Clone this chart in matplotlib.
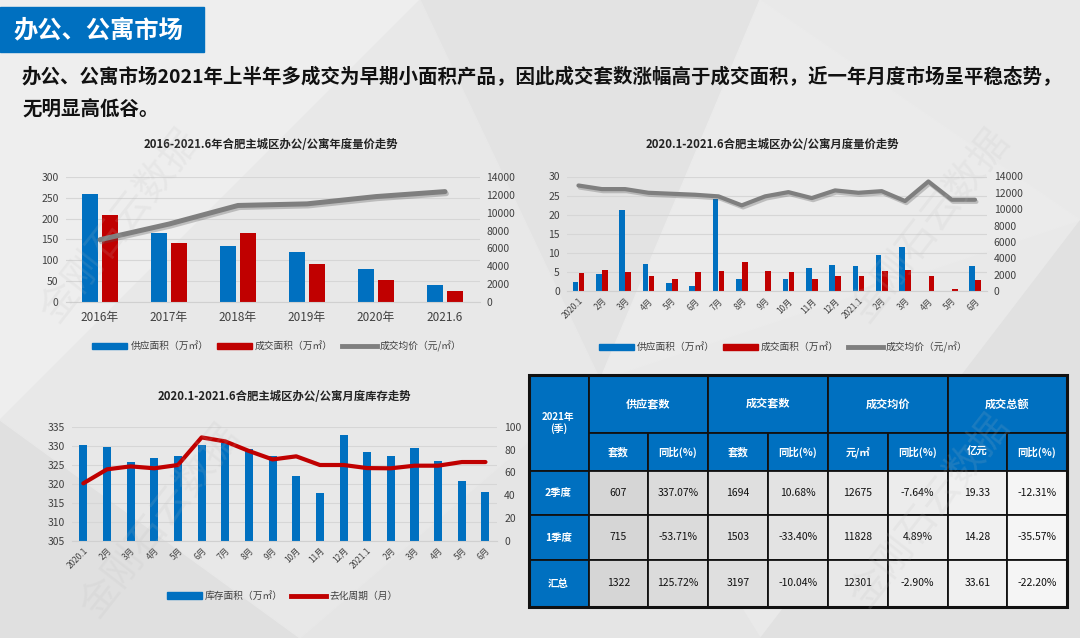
import matplotlib.pyplot as plt
import matplotlib.patheffects as pe
from matplotlib.patches import Rectangle, Polygon, Patch
from matplotlib.lines import Line2D
import numpy as np

plt.rcParams['font.family'] = ['Noto Sans CJK SC', 'DejaVu Sans']

BLUE = '#0070C0'
RED = '#C00000'
GRAY = '#7f7f7f'
TXT = '#404040'

# ---- data ----
years = ['2016年', '2017年', '2018年', '2019年', '2020年', '2021.6']
year_supply = [259, 165, 135, 120, 78, 40]
year_deal = [208, 142, 166, 92, 53, 27]
year_price = [6980, 8740, 10830, 11010, 11830, 12390]

months = ['2020.1', '2月', '3月', '4月', '5月', '6月', '7月', '8月', '9月',
          '10月', '11月', '12月', '2021.1', '2月', '3月', '4月', '5月', '6月']
month_supply = [2.4, 4.5, 21.3, 7.0, 2.0, 1.4, 24.1, 3.1, 0, 3.1, 5.9, 6.8,
                6.6, 9.5, 11.5, 0, 0, 6.6]
month_deal = [4.6, 5.5, 4.9, 3.9, 3.1, 4.9, 5.2, 7.5, 5.2, 4.9, 3.1, 4.0,
              3.8, 5.2, 5.4, 4.0, 0.5, 2.9]
month_price = [12900, 12460, 12460, 12010, 11890, 11770, 11570, 10470, 11570,
               12090, 11360, 12300, 12010, 12210, 11000, 13390, 11160, 11160]

stock = [330.2, 329.7, 325.8, 326.7, 327.4, 330.2, 330.6, 329.1, 327.4, 322.0,
         317.5, 332.9, 328.3, 327.4, 329.4, 326.0, 320.6, 317.8]
cycle = [50.3, 62.6, 65.2, 63.5, 66.4, 90.6, 87.1, 78.7, 71.3, 74.0, 66.4, 66.4,
         63.7, 63.5, 65.8, 65.8, 69.0, 69.0]

tbl_top = ['供应套数', '成交套数', '成交均价', '成交总额']
tbl_sub = ['套数', '同比(%)', '套数', '同比(%)', '元/㎡', '同比(%)', '亿元', '同比(%)']
tbl_rows = ['2季度', '1季度', '汇总']
tbl_vals = [
    ['607', '337.07%', '1694', '10.68%', '12675', '-7.64%', '19.33', '-12.31%'],
    ['715', '-53.71%', '1503', '-33.40%', '11828', '4.89%', '14.28', '-35.57%'],
    ['1322', '125.72%', '3197', '-10.04%', '12301', '-2.90%', '33.61', '-22.20%'],
]

W, H = 1080, 638
fig = plt.figure(figsize=(W / 100, H / 100), dpi=100)


def box(l, t, r, b):
    return [l / W, 1 - b / H, (r - l) / W, (b - t) / H]


# ---- background ----
bg = fig.add_axes([0, 0, 1, 1])
bg.set_xlim(0, W)
bg.set_ylim(H, 0)
bg.axis('off')
bg.add_patch(Rectangle((0, 0), W, H, color='#e9e9e9', zorder=0))
polys = [
    ([(0, 0), (420, 0), (0, 420)], '#eeeeee'),
    ([(420, 0), (760, 0), (600, 380)], '#e3e3e3'),
    ([(0, 420), (300, 638), (0, 638)], '#e0e0e0'),
    ([(600, 380), (760, 0), (1080, 220)], '#ebebeb'),
    ([(1080, 220), (1080, 638), (760, 638)], '#e1e1e1'),
    ([(300, 638), (600, 380), (760, 638)], '#e5e5e5'),
    ([(420, 0), (0, 420), (300, 638), (600, 380)], '#e8e8e8'),
]
for pts, c in polys:
    bg.add_patch(Polygon(pts, closed=True, color=c, zorder=0))

# title bar and intro text
bg.add_patch(Rectangle((0, 7), 204, 45, color=BLUE, zorder=1))
bg.text(13, 30, '办公、公寓市场', color='white', fontsize=17.5, fontweight='bold',
        va='center', ha='left', zorder=2)
bg.text(22, 77, '办公、公寓市场2021年上半年多成交为早期小面积产品，因此成交套数涨幅高于成交面积，近一年月度市场呈平稳态势，',
        color='#111111', fontsize=14, fontweight='bold', va='center', ha='left', zorder=2)
bg.text(22, 110, '无明显高低谷。', color='#111111', fontsize=14, fontweight='bold',
        va='center', ha='left', zorder=2)


def style(ax, axr, ylim, yticks, rlim, rticks):
    for a in (ax, axr):
        a.set_facecolor('none')
        for s in a.spines.values():
            s.set_visible(False)
        a.tick_params(length=0, labelsize=7.5, colors=TXT, pad=5)
    ax.spines['bottom'].set_visible(True)
    ax.spines['bottom'].set_color('#d0d0d0')
    ax.set_ylim(*ylim)
    ax.set_yticks(yticks)
    axr.set_ylim(*rlim)
    axr.set_yticks(rticks)
    ax.yaxis.grid(True, color='#d6d6d6', lw=0.8)
    ax.set_axisbelow(True)


shadow = [pe.SimpleLineShadow(offset=(1, -1.5), shadow_color='#555555', alpha=0.3), pe.Normal()]

# ---- chart 1: yearly ----
ax1 = fig.add_axes(box(65.5, 177.3, 479.5, 301.7))
ax1r = ax1.twinx()
x1 = np.arange(len(years))
ax1.bar(x1 - 0.145, year_supply, 0.22, color=BLUE, zorder=2)
ax1.bar(x1 + 0.145, year_deal, 0.22, color=RED, zorder=2)
ax1r.plot(x1, year_price, color=GRAY, lw=3.6, solid_capstyle='round', path_effects=shadow)
style(ax1, ax1r, (0, 300), range(0, 301, 50), (0, 14000), range(0, 14001, 2000))
ax1.set_xlim(-0.5, len(years) - 0.5)
ax1.set_xticks(x1)
ax1.set_xticklabels(years, fontsize=8.5)
ax1.tick_params(axis='x', pad=7)
fig.text(271 / W, 1 - 145 / H, '2016-2021.6年合肥主城区办公/公寓年度量价走势',
         ha='center', va='center', fontsize=8.2, fontweight='bold', color='#222222')

# ---- chart 2: monthly volume/price ----
ax2 = fig.add_axes(box(566.8, 176.5, 986.7, 291))
ax2r = ax2.twinx()
x2 = np.arange(len(months))
ax2.bar(x2 - 0.13, month_supply, 0.24, color=BLUE, zorder=2)
ax2.bar(x2 + 0.13, month_deal, 0.24, color=RED, zorder=2)
ax2r.plot(x2, month_price, color=GRAY, lw=3, solid_capstyle='round', path_effects=shadow)
style(ax2, ax2r, (0, 30), range(0, 31, 5), (0, 14000), range(0, 14001, 2000))
ax2.set_xlim(-0.5, len(months) - 0.5)
ax2.set_xticks(x2)
ax2.set_xticklabels(months, fontsize=6, rotation=45, ha='right', va='top',
                    rotation_mode='anchor')
ax2.tick_params(axis='x', pad=4)
fig.text(772 / W, 1 - 145 / H, '2020.1-2021.6合肥主城区办公/公寓月度量价走势',
         ha='center', va='center', fontsize=8.2, fontweight='bold', color='#222222')

# ---- chart 3: stock ----
ax3 = fig.add_axes(box(71.5, 426.7, 497.3, 540.7))
ax3r = ax3.twinx()
x3 = np.arange(len(months))
ax3.bar(x3, [v - 305 for v in stock], 0.34, bottom=305, color=BLUE, zorder=2)
ax3r.plot(x3, cycle, color=RED, lw=3, solid_capstyle='round')
style(ax3, ax3r, (305, 335), range(305, 336, 5), (0, 100), range(0, 101, 20))
ax3.set_xlim(-0.5, len(months) - 0.5)
ax3.set_xticks(x3)
ax3.set_xticklabels(months, fontsize=6, rotation=45, ha='right', va='top',
                    rotation_mode='anchor')
ax3.tick_params(axis='x', pad=4)
fig.text(284 / W, 1 - 396 / H, '2020.1-2021.6合肥主城区办公/公寓月度库存走势',
         ha='center', va='center', fontsize=8.2, fontweight='bold', color='#222222')

# ---- legends ----
lg_kw = dict(loc='center', ncol=3, frameon=False, fontsize=7, handlelength=3.6,
             handleheight=0.6, columnspacing=0.9, handletextpad=0.3, labelcolor=TXT)
h_sup = Patch(color=BLUE, label='供应面积（万㎡）')
h_deal = Patch(color=RED, label='成交面积（万㎡）')
h_price = Line2D([], [], color=GRAY, lw=3.5, label='成交均价（元/㎡）')
fig.legend(handles=[h_sup, h_deal, h_price], bbox_to_anchor=(277 / W, 1 - 346 / H), **lg_kw)
fig.legend(handles=[h_sup, h_deal, h_price], bbox_to_anchor=(783 / W, 1 - 347 / H), **lg_kw)
h_stock = Patch(color=BLUE, label='库存面积（万㎡）')
h_cyc = Line2D([], [], color=RED, lw=3.5, label='去化周期（月）')
fig.legend(handles=[h_stock, h_cyc], bbox_to_anchor=(282 / W, 1 - 596 / H),
           **{**lg_kw, 'ncol': 2})

# ---- table ----
cx = [528.5, 588.5, 648, 708, 768, 828, 888, 947.5, 1007, 1066.5]
ry = [375, 433, 471, 515, 560, 607]
tb = fig.add_axes(box(cx[0], ry[0], cx[-1], ry[-1]))
tb.set_xlim(cx[0], cx[-1])
tb.set_ylim(ry[-1], ry[0])
tb.axis('off')
lc = '#111111'


def cell(l, t, r, b, fc, text, color, fs=7.5, bold=False):
    tb.add_patch(Rectangle((l, t), r - l, b - t, facecolor=fc, edgecolor=lc, lw=1.3))
    tb.text((l + r) / 2, (t + b) / 2, text, ha='center', va='center', fontsize=fs,
            color=color, fontweight='bold' if bold else 'normal', linespacing=1.1)


cell(cx[0], ry[0], cx[1], ry[2], BLUE, '2021年\n(季)', 'white', 7, True)
for i, t in enumerate(tbl_top):
    cell(cx[1 + 2 * i], ry[0], cx[3 + 2 * i], ry[1], BLUE, t, 'white', 8, True)
for i, t in enumerate(tbl_sub):
    cell(cx[1 + i], ry[1], cx[2 + i], ry[2], BLUE, t, 'white', 7.5, True)
greys = np.linspace(0.84, 0.96, len(tbl_sub))
for r, name in enumerate(tbl_rows):
    cell(cx[0], ry[2 + r], cx[1], ry[3 + r], BLUE, name, 'white', 7.5, True)
    for c, v in enumerate(tbl_vals[r]):
        g = greys[c]
        cell(cx[1 + c], ry[2 + r], cx[2 + c], ry[3 + r], (g, g, g), v, '#111111', 7.5)
tb.add_patch(Rectangle((cx[0], ry[0]), cx[-1] - cx[0], ry[-1] - ry[0], fill=False,
                       edgecolor=lc, lw=2.2, clip_on=False))

# ---- watermarks ----
for (wx, wy) in [(120, 225), (930, 225), (160, 520), (930, 510)]:
    fig.text(wx / W, 1 - wy / H, '金刚石云数据', fontsize=28, rotation=52,
             color='#bdbdbd', alpha=0.15, ha='center', va='center')

fig.savefig('out.png', dpi=100)
